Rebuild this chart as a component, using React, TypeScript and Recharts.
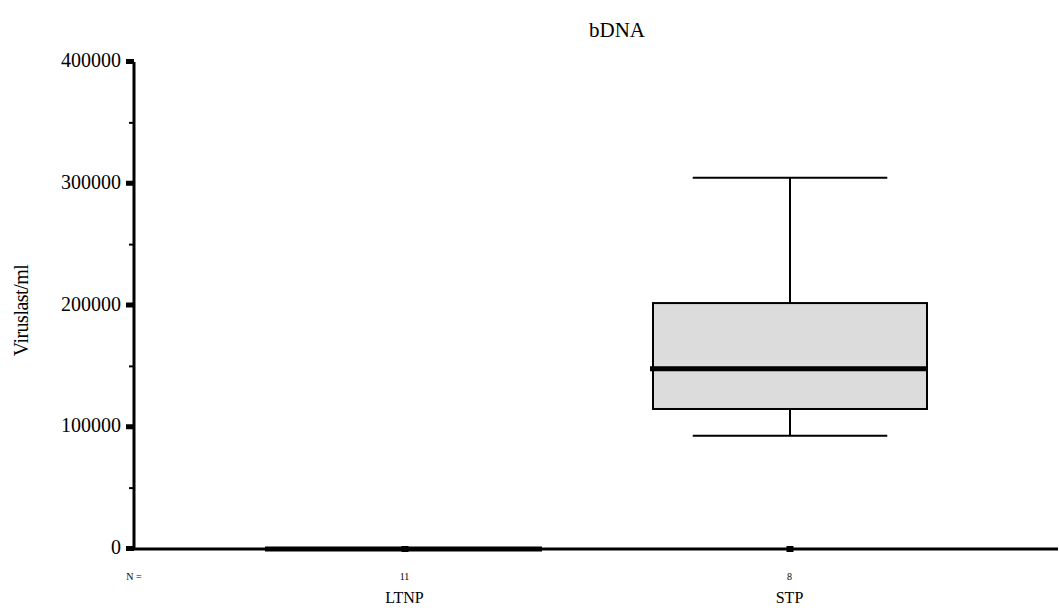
import { ComposedChart, Bar, XAxis, YAxis } from "recharts";

// Kategorien und Boxplot-Werte
const categories = ["LTNP", "STP"];
const counts = [11, 8];
const minValues = [0, 93000];
const q1Values = [0, 115000];
const medianValues = [0, 148000];
const q3Values = [0, 202000];
const maxValues = [0, 305000];
const yTicks = [0, 50000, 100000, 150000, 200000, 250000, 300000, 350000, 400000];

const data = categories.map((name, i) => ({
  name,
  n: counts[i],
  min: minValues[i],
  q1: q1Values[i],
  median: medianValues[i],
  q3: q3Values[i],
  max: maxValues[i],
  range: [minValues[i], maxValues[i]],
}));

const FONT = "'Liberation Serif', 'Times New Roman', serif";

// Box aus der Bar-Geometrie (Whisker-Bereich) ableiten
function BoxShape(props: any) {
  const { x, y, width, height, payload } = props;
  const span = payload.max - payload.min;
  const toPx = (v: number) =>
    span === 0 ? y : y + (height * (payload.max - v)) / span;
  const cx = x + width / 2;
  const capHalf = width * 0.355;
  const yMax = toPx(payload.max);
  const yMin = toPx(payload.min);
  const yQ3 = toPx(payload.q3);
  const yQ1 = toPx(payload.q1);
  const yMed = toPx(payload.median);
  return (
    <g>
      {span > 0 && (
        <>
          <line x1={cx - capHalf} x2={cx + capHalf} y1={yMax} y2={yMax} stroke="#000" strokeWidth={2} />
          <line x1={cx} x2={cx} y1={yMax} y2={yQ3} stroke="#000" strokeWidth={2} />
          <line x1={cx} x2={cx} y1={yQ1} y2={yMin} stroke="#000" strokeWidth={2} />
          <line x1={cx - capHalf} x2={cx + capHalf} y1={yMin} y2={yMin} stroke="#000" strokeWidth={2} />
        </>
      )}
      <rect
        x={x}
        y={yQ3}
        width={width}
        height={Math.max(yQ1 - yQ3, 0)}
        fill="#dcdcdc"
        stroke="#000"
        strokeWidth={span > 0 ? 2 : 3}
      />
      <line x1={x - 3} x2={x + width} y1={yMed} y2={yMed} stroke="#000" strokeWidth={5} />
    </g>
  );
}

function YTick(props: any) {
  const { x, y, payload } = props;
  const major = payload.value % 100000 === 0;
  if (!major) {
    return <line x1={x - 5} x2={x} y1={y} y2={y} stroke="#000" strokeWidth={2} />;
  }
  return (
    <g>
      <rect x={x - 8} y={y - 3} width={8} height={5} fill="#000" />
      <text x={x - 13} y={y + 5} textAnchor="end" fontFamily={FONT} fontSize={20} fill="#000">
        {payload.value}
      </text>
    </g>
  );
}

function XTick(props: any) {
  const { x, y, payload, index } = props;
  return (
    <g>
      <rect x={x - 3} y={y - 3} width={7} height={6} fill="#000" />
      <text x={x} y={y + 31} textAnchor="middle" fontFamily={FONT} fontSize={10} fill="#000">
        {counts[index]}
      </text>
      <text x={x} y={y + 54} textAnchor="middle" fontFamily={FONT} fontSize={16} fill="#000">
        {payload.value}
      </text>
    </g>
  );
}

export default function App() {
  return (
    <div style={{ position: "absolute", left: 0, top: 0, width: 1059, height: 608, background: "#fff" }}>
      <div
        style={{
          position: "absolute",
          left: 517,
          top: 18,
          width: 200,
          textAlign: "center",
          fontFamily: FONT,
          fontSize: 21,
        }}
      >
        bDNA
      </div>
      <ComposedChart
        width={1059}
        height={608}
        data={data}
        margin={{ top: 62, right: 1, bottom: 0, left: 14 }}
      >
        <XAxis
          dataKey="name"
          padding={{ left: 78, right: 76 }}
          axisLine={{ stroke: "#000", strokeWidth: 3 }}
          tickLine={false}
          tickSize={0}
          tickMargin={0}
          tick={<XTick />}
          height={59}
          interval={0}
          label={{
            content: (p: any) => (
              <text
                x={p.viewBox.x}
                y={p.viewBox.y + 31}
                textAnchor="middle"
                fontFamily={FONT}
                fontSize={10}
                fill="#000"
              >
                N =
              </text>
            ),
          }}
        />
        <YAxis
          width={120}
          domain={[0, 400000]}
          ticks={yTicks}
          interval={0}
          axisLine={{ stroke: "#000", strokeWidth: 3 }}
          tickLine={false}
          tickSize={0}
          tickMargin={0}
          tick={<YTick />}
          label={{
            content: (p: any) => {
              const cx = p.viewBox.x + 7;
              const cy = p.viewBox.y + p.viewBox.height / 2 + 5;
              return (
                <text
                  x={cx}
                  y={cy}
                  transform={`rotate(-90 ${cx} ${cy})`}
                  textAnchor="middle"
                  dominantBaseline="central"
                  fontFamily={FONT}
                  fontSize={20}
                  letterSpacing={-0.5}
                  fill="#000"
                >
                  Viruslast/ml
                </text>
              );
            },
          }}
        />
        <Bar dataKey="range" barSize={274} shape={<BoxShape />} isAnimationActive={false} />
      </ComposedChart>
    </div>
  );
}
